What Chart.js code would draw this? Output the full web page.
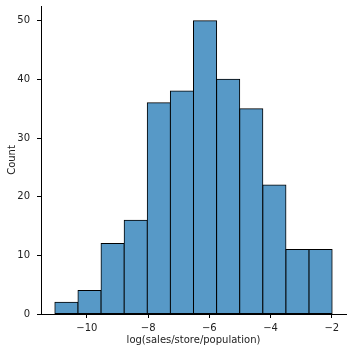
<!DOCTYPE html>
<html><head><meta charset="utf-8">
<script src="https://cdn.jsdelivr.net/npm/chart.js@4"></script>
<style>html,body{margin:0;padding:0;background:#fff}canvas{display:block}</style>
</head><body>
<canvas id="c" width="352" height="352"></canvas>
<script>
// Histogram data
const binEdges = [-11.046, -10.291, -9.537, -8.782, -8.027, -7.273, -6.518, -5.763, -5.009, -4.254, -3.499, -2.745, -1.990];
const counts = [2, 4, 12, 16, 36, 38, 50, 40, 35, 22, 11, 11];
const xTickValues = [-10, -8, -6, -4, -2];
const yTickValues = [0, 10, 20, 30, 40, 50];
const xLabel = 'log(sales/store/population)';
const yLabel = 'Count';

const points = counts.map((c, i) => ({ x: (binEdges[i] + binEdges[i + 1]) / 2, y: c }));
const span = binEdges[binEdges.length - 1] - binEdges[0];
const xMin = binEdges[0] - 0.05 * span, xMax = binEdges[binEdges.length - 1] + 0.05 * span;
const yMax = Math.max(...counts) * 1.05;

const fmt = v => (v < 0 ? '\u2212' : '') + Math.abs(v);
const font = { family: 'DejaVu Sans', size: 10 };
const textColor = '#222';

new Chart(document.getElementById('c'), {
  type: 'bar',
  data: { datasets: [{
    data: points,
    backgroundColor: 'rgb(87,153,199)',
    borderColor: '#000',
    borderWidth: 1,
    borderSkipped: false,
    barPercentage: 1,
    categoryPercentage: 1,
    inflateAmount: 0.5
  }]},
  options: {
    responsive: false, animation: false, devicePixelRatio: 1,
    layout: { padding: { top: 6, right: 6, left: 0, bottom: 0 } },
    plugins: { legend: { display: false }, tooltip: { enabled: false } },
    scales: {
      x: {
        type: 'linear', min: xMin, max: xMax, offset: false,
        afterBuildTicks: s => { s.ticks = xTickValues.map(v => ({ value: v })); },
        afterFit: s => { s.height = 38; s.paddingLeft = 0; s.paddingRight = 0; },
        grid: { display: true, offset: false, drawOnChartArea: false, drawTicks: true, tickLength: 4, tickColor: '#000', tickWidth: 1 },
        border: { display: true, color: '#000', width: 1 },
        ticks: { color: textColor, font, padding: 4, callback: v => fmt(v), maxRotation: 0 },
        title: { display: true, text: xLabel, color: textColor, font, padding: { top: 0, bottom: 6 } }
      },
      y: {
        type: 'linear', min: 0, max: yMax,
        afterBuildTicks: s => { s.ticks = yTickValues.map(v => ({ value: v })); },
        afterFit: s => { s.width = 41; s.paddingTop = 0; s.paddingBottom = 0; },
        grid: { display: true, drawOnChartArea: false, drawTicks: true, tickLength: 4, tickColor: '#000', tickWidth: 1 },
        border: { display: true, color: '#000', width: 1 },
        ticks: { color: textColor, font, padding: 7, callback: v => fmt(v) },
        title: { display: true, text: yLabel, color: textColor, font, padding: { top: 6, bottom: 0 } }
      }
    }
  }
});
</script>
</body></html>
